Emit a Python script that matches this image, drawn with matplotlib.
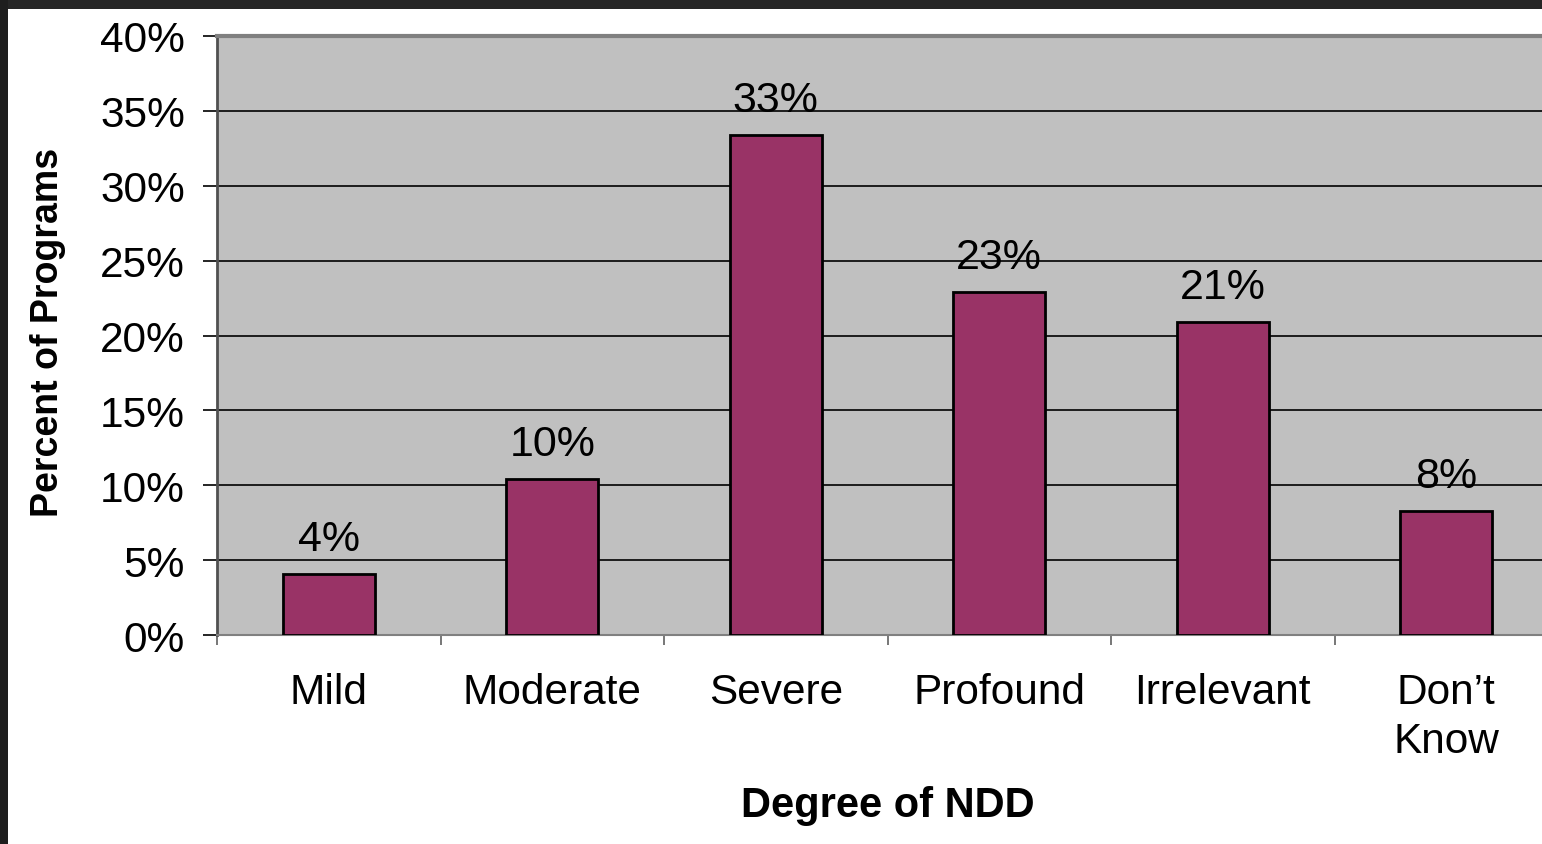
"""Bar chart: share of programs by degree of NDD."""

import matplotlib

matplotlib.use("Agg")

import matplotlib.pyplot as plt
from matplotlib.patches import Rectangle
from matplotlib.ticker import MultipleLocator, FuncFormatter

plt.rcParams["font.family"] = ["Liberation Sans", "DejaVu Sans"]

CATEGORIES = ["Mild", "Moderate", "Severe", "Profound", "Irrelevant", "Don\u2019t\nKnow"]
PERCENTS = [4.1, 10.4, 33.4, 22.9, 20.9, 8.3]
VALUE_LABELS = ["4%", "10%", "33%", "23%", "21%", "8%"]

BAR_COLOR = "#993366"
PLOT_BG = "#C0C0C0"
W, H = 1542, 845

fig = plt.figure(figsize=(W / 100, H / 100), dpi=100)
fig.patch.set_facecolor("white")

# dark slide frame along the top and left edges
fig.patches.append(Rectangle((0, 1 - 10 / H), 1, 10 / H, transform=fig.transFigure,
                             facecolor="#262626", edgecolor="none", zorder=0))
fig.patches.append(Rectangle((0, 0), 8 / W, 1, transform=fig.transFigure,
                             facecolor="#1e1e1e", edgecolor="none", zorder=0))

# plot area runs past the right edge of the slide
ax = fig.add_axes([217 / W, 1 - 636 / H, 1341 / W, 599 / H])
ax.set_facecolor(PLOT_BG)

x = list(range(len(CATEGORIES)))
bars = ax.bar(x, PERCENTS, width=0.41, color=BAR_COLOR, edgecolor="black",
              linewidth=2, zorder=3)

for rect, label in zip(bars, VALUE_LABELS):
    ax.text(rect.get_x() + rect.get_width() / 2, rect.get_height() + 1.6, label,
            ha="center", va="baseline", fontsize=31, color="black", zorder=4)

ax.set_xlim(-0.5, len(CATEGORIES) - 0.5)
ax.set_ylim(0, 40)
ax.yaxis.set_major_locator(MultipleLocator(5))
ax.yaxis.set_major_formatter(FuncFormatter(lambda v, _: f"{v:.0f}%"))
ax.grid(axis="y", color="black", linewidth=1.2, zorder=1)
ax.set_axisbelow(True)

# category separators as major ticks, names centred under bars as minor ticks
ax.set_xticks([i - 0.5 for i in x])
ax.set_xticklabels([])
ax.set_xticks(x, minor=True)
ax.set_xticklabels(CATEGORIES, minor=True, fontsize=30.5, va="top", linespacing=1.28)
ax.tick_params(axis="x", which="major", length=7, color="#606060", width=1.2, direction="out")
ax.tick_params(axis="x", which="minor", length=0, pad=27)
ax.tick_params(axis="y", length=10, width=1.2, color="black", labelsize=30.5, pad=13)

ax.spines["right"].set_visible(False)
ax.spines["top"].set_color("#808080")
ax.spines["top"].set_linewidth(3)
ax.spines["left"].set_color("#505050")
ax.spines["left"].set_linewidth(2)
ax.spines["bottom"].set_color("#808080")
ax.spines["bottom"].set_linewidth(1.5)

fig.text(48 / W, 1 - 332 / H, "Percent of Programs", rotation=90, ha="center",
         va="center", fontsize=27, fontweight="bold")
fig.text(888 / W, 1 - 806 / H, "Degree of NDD", ha="center", va="center",
         fontsize=30, fontweight="bold")

fig.savefig("out.png", dpi=100)
